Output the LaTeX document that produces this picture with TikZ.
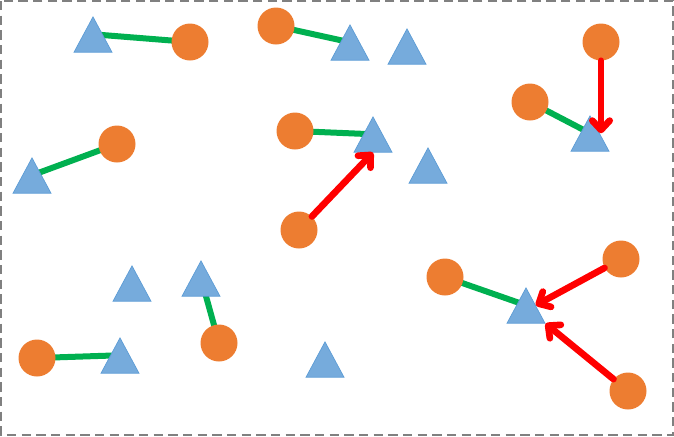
\documentclass[tikz,border=0pt]{standalone}
\usetikzlibrary{arrows.meta,shapes.geometric,backgrounds}
\definecolor{pointorange}{RGB}{237,125,49}
\definecolor{pointblue}{RGB}{118,171,220}
\definecolor{pointedge}{RGB}{91,155,213}
\definecolor{linkgreen}{RGB}{0,176,80}
\definecolor{linkred}{RGB}{255,0,0}
\definecolor{framegray}{RGB}{128,128,128}

\begin{document}
\begin{tikzpicture}[x=0.75pt, y=-0.75pt,
  src/.style={circle, fill=pointorange, minimum size=27.75pt, inner sep=0pt},
  tgt/.style={isosceles triangle, isosceles triangle stretches, shape border rotate=90, fill=pointblue, draw=pointedge, line width=0.5pt, minimum width=28.5pt, minimum height=26.5pt, inner sep=0pt, anchor=apex},
  pair/.style={linkgreen, line width=4.5pt},
  push/.style={linkred, line width=5pt, line cap=round, -{Straight Barb[round, length=7pt, width=13pt]}}]
\useasboundingbox (0,0) rectangle (674,436);
\draw[framegray, line width=1.5pt, dash pattern=on 7pt off 4pt] (1,1) rectangle (673,435);
% circles
\node[src] (a) at (190,42) {};
\node[src] (b) at (276,26) {};
\node[src] (c) at (601,42) {};
\node[src] (d) at (530,102) {};
\node[src] (e) at (117,144) {};
\node[src] (f) at (295,131) {};
\node[src] (g) at (299,230) {};
\node[src] (h) at (445,277) {};
\node[src] (i) at (621,259) {};
\node[src] (j) at (628,391) {};
\node[src] (k) at (37,358) {};
\node[src] (l) at (219,343) {};
% triangles, placed by their apex
\node[tgt] (t1) at (93,16) {};
\node[tgt] (t2) at (350,24) {};
\node[tgt] (t3) at (407,28) {};
\node[tgt] (t4) at (373,116) {};
\node[tgt] (t5) at (428,147) {};
\node[tgt] (t6) at (590,115) {};
\node[tgt] (t7) at (32,157) {};
\node[tgt] (t8) at (132,265) {};
\node[tgt] (t9) at (201,260) {};
\node[tgt] (t10) at (120,337) {};
\node[tgt] (t11) at (325,341) {};
\node[tgt] (t12) at (526,287) {};
% pairs, behind the shapes
\begin{pgfonlayer}{background}
\draw[pair] (t1.apex |- t1.left side) -- (a.center);
\draw[pair] (b.center) -- (t2.apex |- t2.left side);
\draw[pair] (e.center) -- (t7.apex |- t7.left side);
\draw[pair] (f.center) -- (t4.apex |- t4.left side);
\draw[pair] (d.center) -- (t6.apex |- t6.left side);
\draw[pair] (h.center) -- (t12.apex |- t12.left side);
\draw[pair] (k.center) -- (t10.apex |- t10.left side);
\draw[pair] (t9.apex |- t9.left side) -- (l.center);
\end{pgfonlayer}
% pushes
\draw[push] (g) -- (t4.south);
\draw[push] (c) -- (c |- t6.left side);
\draw[push] (i) -- (t12.right side);
\draw[push] (j) -- (t12.right corner);
\end{tikzpicture}
\end{document}
